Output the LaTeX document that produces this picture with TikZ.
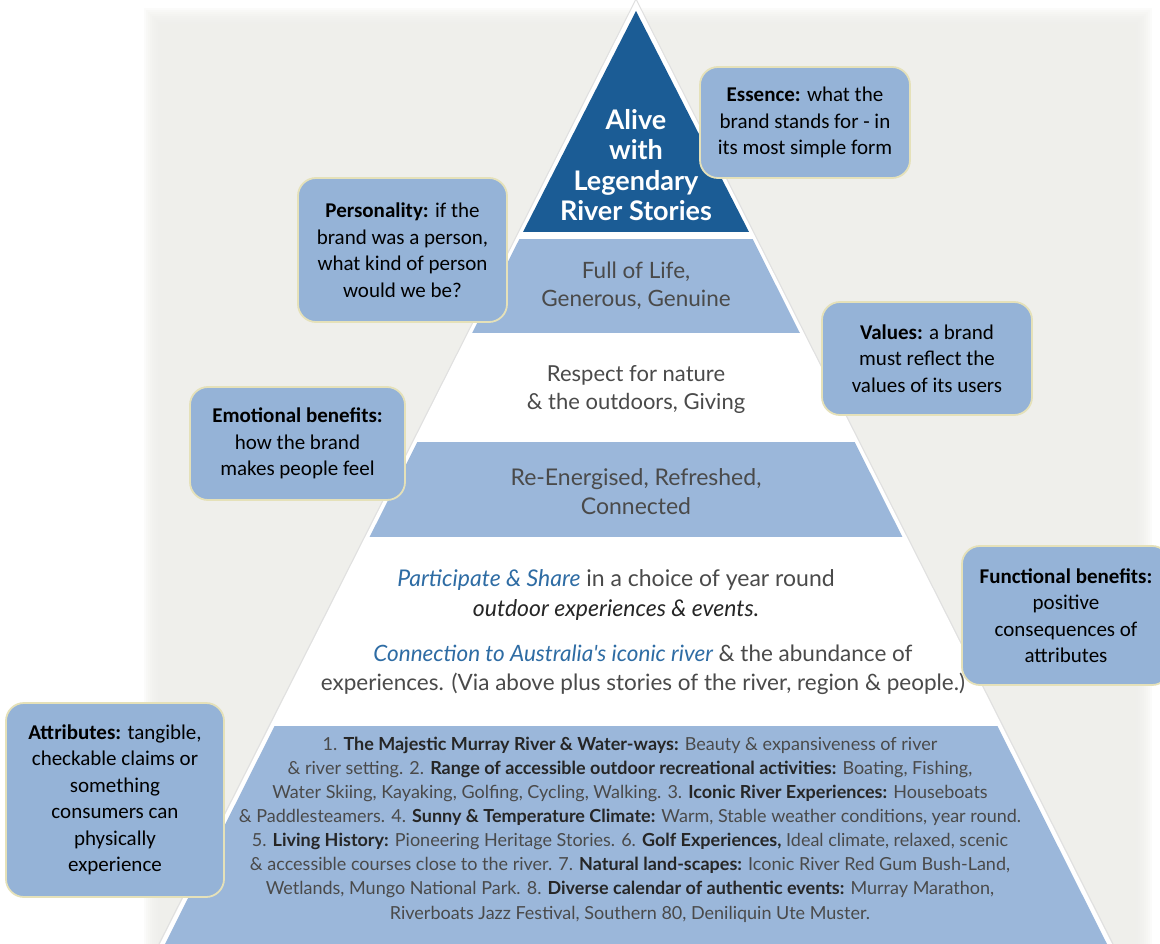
\documentclass[tikz,border=0pt]{standalone}
\usepackage{fontspec}
\setmainfont{Carlito}
\newfontfamily\pyr{Lato}
\definecolor{bg}{HTML}{EFEFEB}
\definecolor{darkblue}{HTML}{1B5C95}
\definecolor{band}{HTML}{9BB7DA}
\definecolor{callfill}{HTML}{95B3D7}
\definecolor{callline}{HTML}{E5E1B9}
\definecolor{ptext}{HTML}{4A4A4A}
\definecolor{pbold}{HTML}{262626}
\definecolor{itblue}{HTML}{2E6CA4}
\newcommand{\bb}[1]{{\bfseries\color{pbold}#1}}
\newcommand{\ib}[1]{{\itshape\color{itblue}#1}}
\begin{document}
\begin{tikzpicture}[x=1pt,y=-1pt,
  callout/.style={rectangle, rounded corners=18pt, fill=callfill, draw=callline,
    line width=1.8pt, inner sep=0pt, align=center,
    font=\fontsize{21}{26.5}\selectfont, text=black},
  ptxt/.style={align=center, inner sep=0pt, text=ptext}]
\useasboundingbox (0,0) rectangle (1160,944);
\fill[white] (0,0) rectangle (1160,944);
% background panel with soft edges
\foreach \i in {0,...,7}
  \fill[bg, opacity=0.22] (144+2*\i, 8+2*\i) rectangle (1152-2*\i, 944);
\fill[bg] (160,24) rectangle (1136,944);
% pyramid
\fill[white] (636,0) -- (1112,944) -- (160,944) -- cycle;
\draw[black!12, line width=1pt] (159,944) -- (636,-1) -- (1113,944);
\begin{scope}
  \clip (636,7) -- (1107,944) -- (165,944) -- cycle;
  \fill[band] (0,239) rectangle (1160,333);
  \fill[band] (0,442) rectangle (1160,537);
  \fill[band] (0,726) rectangle (1160,944);
\end{scope}
\fill[darkblue] (636,11) -- (749,232) -- (523,232) -- cycle;
% pyramid texts
\node[ptxt, text=white, font=\pyr\bfseries\fontsize{27}{30.5}\selectfont] (essencetxt) at (636,165)
  {Alive\\with\\Legendary\\River Stories};
\node[ptxt, font=\pyr\fontsize{22.5}{28}\selectfont] (persontxt) at (636,286)
  {Full of Life,\\Generous, Genuine};
\node[ptxt, font=\pyr\fontsize{22}{28}\selectfont] (valuestxt) at (636,390)
  {Respect for nature\\\& the outdoors, Giving};
\node[ptxt, font=\pyr\fontsize{23}{29}\selectfont] (emotxt) at (636,491.5)
  {Re-Energised, Refreshed,\\Connected};
\node[ptxt, font=\pyr\fontsize{23}{30}\selectfont] (functxt1) at (616,595)
  {\ib{Participate \& Share} in a choice of year round\\{\itshape\color{pbold}outdoor experiences \& events.}};
\node[ptxt, font=\pyr\fontsize{22.5}{29}\selectfont] (functxt2) at (643,669.5)
  {\ib{Connection to Australia's iconic river} \& the abundance of\\experiences. (Via above plus stories of the river, region \& people.)};
\node[ptxt, font=\pyr\fontsize{18}{24.1}\selectfont] (attrtxt) at (630,829.5)
  {1. \bb{The Majestic Murray River \& Water-ways:} Beauty \& expansiveness of river\\
   \& river setting. 2. \bb{Range of accessible outdoor recreational activities:} Boating, Fishing,\\
   Water Skiing, Kayaking, Golfing, Cycling, Walking. 3. \bb{Iconic River Experiences:} Houseboats\\
   \& Paddlesteamers. 4. \bb{Sunny \& Temperature Climate:} Warm, Stable weather conditions, year round.\\
   5. \bb{Living History:} Pioneering Heritage Stories. 6. \bb{Golf Experiences,} Ideal climate, relaxed, scenic\\
   \& accessible courses close to the river. 7. \bb{Natural land-scapes:} Iconic River Red Gum Bush-Land,\\
   Wetlands, Mungo National Park. 8. \bb{Diverse calendar of authentic events:} Murray Marathon,\\
   Riverboats Jazz Festival, Southern 80, Deniliquin Ute Muster.};
% callouts
\node[callout, minimum width=210pt, minimum height=111pt] (essence) at (805,122.5)
  {\textbf{Essence:} what the\\brand stands for - in\\its most simple form};
\node[callout, minimum width=209pt, minimum height=144pt] (personality) at (402.5,250)
  {\textbf{Personality:} if the\\brand was a person,\\what kind of person\\would we be?};
\node[callout, minimum width=210pt, minimum height=113pt] (values) at (927,358.5)
  {\textbf{Values:} a brand\\must reflect the\\values of its users};
\node[callout, minimum width=215pt, minimum height=113pt] (emotional) at (297.5,443.5)
  {\textbf{Emotional benefits:}\\how the brand\\makes people feel};
\node[callout, minimum width=208pt, minimum height=139pt] (functional) at (1066,615.5)
  {\textbf{Functional benefits:}\\positive\\consequences of\\attributes};
\node[callout, minimum width=218pt, minimum height=194pt] (attributes) at (115,800)
  {\textbf{Attributes:} tangible,\\checkable claims or\\something\\consumers can\\physically\\experience};
\end{tikzpicture}
\end{document}
